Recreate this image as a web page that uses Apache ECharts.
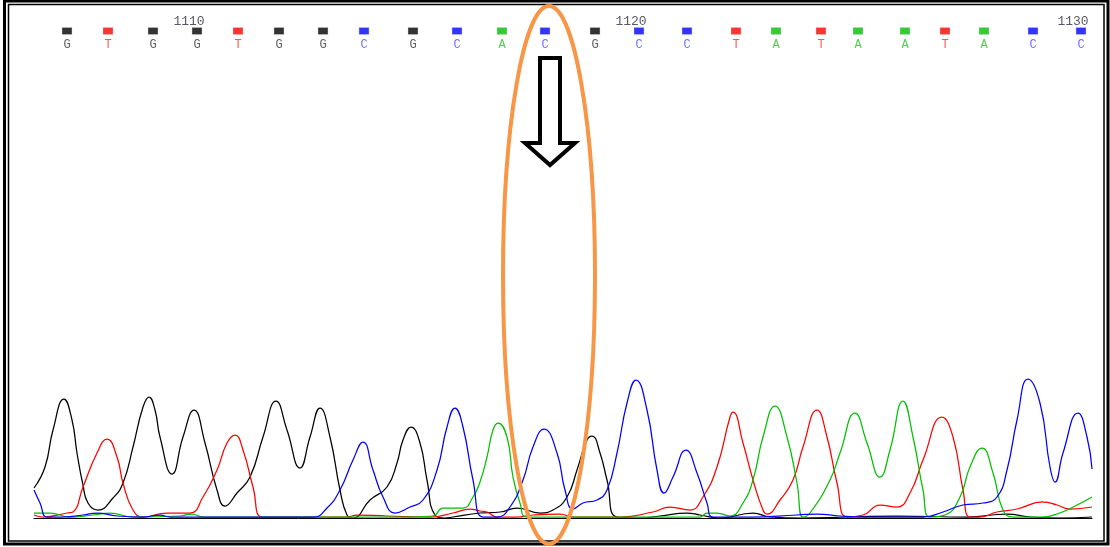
<!DOCTYPE html>
<html>
<head>
<meta charset="utf-8">
<script src="https://cdn.jsdelivr.net/npm/echarts@6/dist/echarts.min.js"></script>
<style>
html,body{margin:0;padding:0;background:#fff;}
#chart{width:1110px;height:547px;}
</style>
</head>
<body>
<div id="chart"></div>
<script>
// Base calls (scan position, base letter)
const basePositions = [33,74,119,163,204,245,289,330,379,423,468,511,561,605,653,702,742,787,824,871,911,950,999,1047];
const baseLetters   = ['G','T','G','G','T','G','G','C','G','C','A','C','G','C','C','T','A','T','A','A','T','A','C','C'];
// Position numbers
const posLabels = ['1110','1120','1130'];
const posLabelBaseIndex = [3,13,23];

// Trace intensities [scan, signal]
const traceG = [[0,30],[11,51],[19,88],[30,119],[38,98],[43,65],[49,33],[54,15],[64,8],[79,20],[89,35],[99,71],[109,111],[115,121],[121,108],[126,81],[138,44],[149,81],[160,108],[171,75],[183,28],[191,12],[203,25],[216,41],[229,81],[242,117],[253,88],[266,50],[276,81],[286,110],[296,81],[306,28],[313,3],[319,0],[336,18],[353,31],[363,55],[369,78],[377,91],[386,75],[393,38],[401,3],[411,0],[419,1],[446,5],[466,6],[483,10],[506,5],[519,8],[533,21],[543,48],[553,78],[558,82],[566,65],[573,38],[583,1],[606,0],[626,2],[653,5],[666,3],[686,0],[719,5],[736,1],[766,0],[816,1],[863,2],[933,1],[973,4],[996,1],[1026,0],[1058,1]];
const traceT = [[0,3],[9,1],[33,5],[39,6],[49,31],[63,65],[73,79],[83,61],[89,35],[99,8],[109,1],[133,5],[156,5],[169,21],[183,48],[193,75],[201,83],[209,68],[219,31],[228,1],[243,1],[313,1],[323,3],[353,2],[396,1],[419,5],[436,9],[446,7],[453,6],[463,1],[483,1],[499,3],[526,4],[539,1],[586,1],[619,6],[636,11],[656,8],[669,21],[683,51],[696,101],[699,106],[709,75],[719,38],[729,8],[733,4],[746,18],[759,38],[769,71],[783,108],[793,81],[803,35],[813,1],[829,3],[846,13],[863,11],[876,25],[889,58],[908,101],[919,81],[929,28],[936,1],[946,1],[963,6],[983,9],[1009,16],[1023,13],[1036,9],[1058,11]];
const traceA = [[0,5],[16,5],[36,1],[59,3],[76,5],[99,1],[146,2],[158,4],[169,1],[326,1],[376,1],[399,2],[409,10],[429,10],[439,21],[446,36],[453,61],[459,88],[464,95],[473,81],[479,41],[486,15],[493,1],[666,1],[673,5],[683,5],[696,2],[709,15],[719,38],[729,81],[741,112],[753,81],[763,35],[769,1],[776,5],[796,38],[806,65],[821,105],[833,75],[846,41],[856,68],[869,117],[879,81],[889,28],[896,1],[911,3],[926,21],[936,51],[948,70],[959,45],[969,8],[979,1],[1006,1],[1023,4],[1043,13],[1058,21]];
const traceC = [[0,28],[6,15],[13,1],[26,1],[49,3],[63,5],[83,2],[109,1],[126,3],[136,1],[279,1],[293,10],[306,28],[319,58],[329,76],[339,48],[349,21],[361,5],[376,11],[389,18],[403,48],[413,91],[421,110],[429,91],[439,38],[449,1],[463,1],[476,11],[489,38],[499,71],[510,89],[523,65],[531,28],[539,9],[549,15],[563,18],[573,28],[583,65],[593,115],[602,138],[613,108],[623,48],[630,25],[639,41],[652,68],[663,45],[673,15],[679,1],[716,1],[763,3],[783,4],[806,2],[829,1],[889,1],[909,6],[929,13],[949,15],[963,21],[973,48],[983,98],[994,139],[1006,115],[1016,51],[1021,36],[1029,65],[1044,105],[1053,81],[1058,49]];

const squareColor = {G:'#000000', T:'#ff0000', C:'#0000ff', A:'#00c000'};
const letterColor = {G:'#333333', T:'#ff2a2a', C:'#4a4aff', A:'#2cc02c'};
const traceColor  = {G:'#000000', T:'#ff0000', C:'#0000ff', A:'#00c000'};

const chart = echarts.init(document.getElementById('chart'), null, {renderer:'canvas'});

const baseData = basePositions.map((x,i)=>({
  value:[x,31],
  itemStyle:{color:squareColor[baseLetters[i]], borderColor:'#d0d0d0', borderWidth:0.5},
  label:{color:letterColor[baseLetters[i]]},
  name:baseLetters[i]
}));
const numData = posLabels.map((t,i)=>({value:[basePositions[posLabelBaseIndex[i]],22], name:t}));

function traceSeries(name, data, color){
  return {
    name, type:'line', xAxisIndex:0, yAxisIndex:0, data,
    smooth:0.5, showSymbol:false, symbol:'none',
    lineStyle:{color, width:1.25}, z:3, silent:true
  };
}

chart.setOption({
  animation:false,
  backgroundColor:'#ffffff',
  grid:[
    {left:34, width:1058, top:60, height:458},
    {left:34, width:1058, top:0, height:60}
  ],
  xAxis:[
    {type:'value', gridIndex:0, min:0, max:1058, axisLine:{show:true, onZero:false, lineStyle:{color:'#000', width:1}},
     axisTick:{show:false}, axisLabel:{show:false}, splitLine:{show:false}},
    {type:'value', gridIndex:1, min:0, max:1058, show:false}
  ],
  yAxis:[
    {type:'value', gridIndex:0, min:0, max:458, show:false},
    {type:'value', gridIndex:1, min:0, max:60, inverse:true, show:false}
  ],
  series:[
    traceSeries('G', traceG, traceColor.G),
    traceSeries('T', traceT, traceColor.T),
    traceSeries('A', traceA, traceColor.A),
    traceSeries('C', traceC, traceColor.C),
    {
      type:'scatter', xAxisIndex:1, yAxisIndex:1, data:baseData,
      symbol:'rect', symbolSize:[10,7], silent:true,
      label:{show:true, position:'bottom', distance:4, formatter:p=>p.name,
             fontFamily:'Liberation Mono', fontSize:12}
    },
    {
      type:'scatter', xAxisIndex:1, yAxisIndex:1, data:numData,
      symbolSize:0, silent:true,
      label:{show:true, position:'inside', offset:[-8,0], formatter:p=>p.name,
             fontFamily:'Liberation Mono', fontSize:13, color:'#2e2e3e'}
    }
  ],
  graphic:[
    {type:'rect', shape:{x:4.5, y:1, width:1103.5, height:543}, style:{fill:null, stroke:'#000', lineWidth:3}, z:10, silent:true},
    {type:'rect', shape:{x:8.5, y:4.5, width:1095.5, height:536.5}, style:{fill:null, stroke:'#000', lineWidth:1.5}, z:10, silent:true},
    {type:'polygon', shape:{points:[[540,58],[560,58],[560,143],[575,143],[550,165],[525,143],[540,143]]},
     style:{fill:'#fff', stroke:'#000', lineWidth:4, lineJoin:'miter'}, z:20, silent:true},
    {type:'ellipse', shape:{cx:549, cy:275, rx:46, ry:269}, style:{fill:null, stroke:'#F79646', lineWidth:4}, z:30, silent:true}
  ]
});
</script>
</body>
</html>
